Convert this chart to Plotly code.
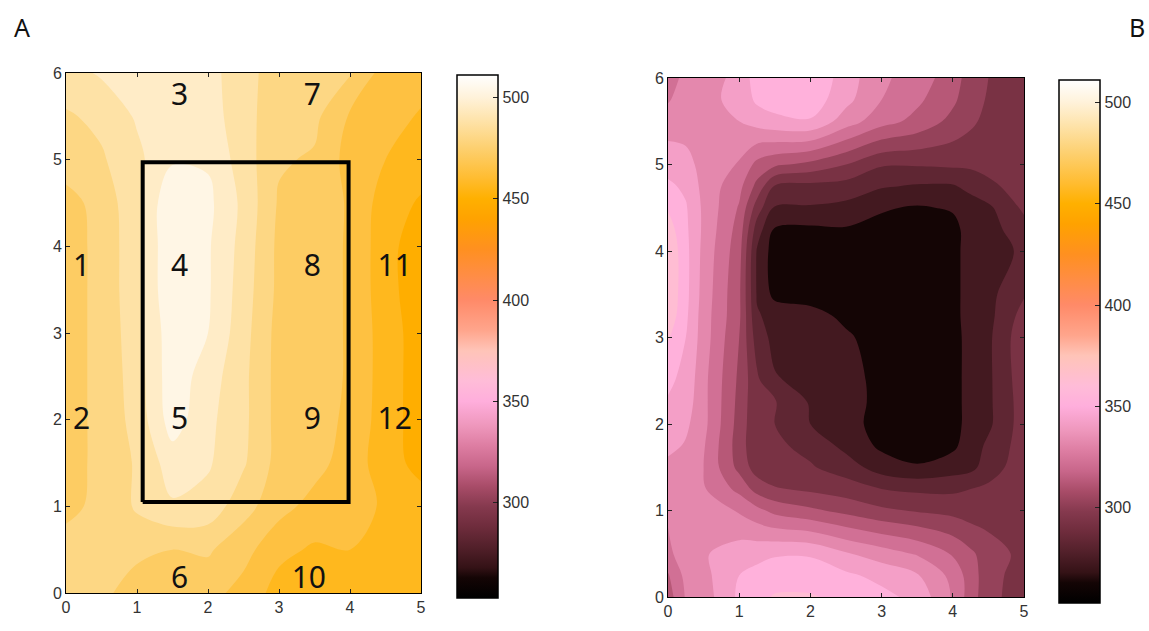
import plotly.graph_objects as go

W, H = 1149, 631
x_a = [0, .5, 1, 1.5, 2, 2.5, 3, 3.5, 4, 4.5, 5]
y_a = [0, .5, 1, 1.5, 2, 2.5, 3, 3.5, 4, 4.5, 5, 5.5, 6]
z_a = [
 [482,480,471,471,472,466,458,456,460,461,461],
 [480,482,480,477,478,472,463,460,461,461,461],
 [475,479,486,492,490,480,472,466,464,460,457],
 [474,479,486,497,494,486,474,472,465,457,450],
 [474,479,488,505,495,487,474,473,467,457,449],
 [474,479,489,506,497,487,474,473,468,457,449],
 [474,479,490,506,501,488,474,473,468,457,449],
 [474,479,491,508,502,489,475,473,468,456,448],
 [474,479,491,508,502,490,475,473,468,456,448],
 [474,480,491,508,503,491,476,474,468,457,452],
 [481,484,491,500,500,489,478,476,466,461,457],
 [484,487,494,497,497,488,480,479,468,465,460],
 [490,494,496,497,496,488,481,480,478,465,465],
]
x_b = [0, .25, .5, 1, 1.25, 1.5, 2, 2.5, 3, 3.5, 4, 4.25, 4.5, 5]
y_b = [0, .25, .5, 1, 1.25, 1.5, 1.75, 2, 2.25, 2.5, 3, 3.25, 3.5, 4, 4.25, 4.5, 4.75, 5, 5.5, 5.75, 6]
z_b = [
 [308,324,328,345,350,354,354,350,346,340,322,308,296,288],
 [312,326,330,343,346,348,348,345,340,334,320,308,297,288],
 [320,330,332,338,340,342,342,334,328,322,312,305,298,290],
 [325,326,328,322,316,310,305,300,295,292,290,288,288,290],
 [327,326,324,310,299,294,291,288,283,281,281,283,285,290],
 [330,328,323,300,288,285,284,278,268,264,268,270,278,289],
 [336,332,324,298,285,285,280,270,261,258,261,268,275,288],
 [340,335,326,299,285,283,273,268,258,256,259,267,271,288],
 [342,338,326,300,285,284,272,270,258,256,259,267,271,288],
 [345,340,326,301,285,274,270,268,259,256,259,267,271,289],
 [354,343,328,303,278,270,268,265,257,256,259,267,271,290],
 [360,345,328,305,274,270,268,260,257,256,260,267,270,287],
 [362,346,329,305,272,260,257,257,256,256,260,267,270,282],
 [362,346,330,307,272,258,257,257,256,256,260,267,268,275],
 [358,345,331,309,278,262,261,262,260,258,260,267,269,279],
 [352,344,331,312,288,272,272,270,264,262,264,268,271,285],
 [345,341,330,316,300,282,280,279,274,272,272,276,281,287],
 [339,336,330,322,310,305,300,293,284,284,285,285,286,287],
 [328,329,330,333,337,340,342,328,317,310,300,295,290,288],
 [322,328,330,336,345,348,349,336,323,315,305,297,292,288],
 [318,326,328,336,348,350,352,338,325,318,308,298,293,288],
]
z_min, z_max = 253, 511
tick_vals = [300, 350, 400, 450, 500]
cs_values = [253,263,268,278,288,298,308,318,328,338,350,360,375,385,400,425,440,450,460,475,490,500,511]
cs_colors = ["#000000","#140505","#341216","#52202a","#6e2c3c","#85394e","#a84c68","#c8668a","#dd7da2",
             "#ee97bc","#ffaedc","#ffbcd8","#ffc4b8","#ffa58c","#ff8a68","#ff9020","#ffa200","#ffb000",
             "#ffbc30","#fdd070","#fee5b0","#fff2da","#ffffff"]
colorscale = [[(v - z_min) / (z_max - z_min), c] for v, c in zip(cs_values, cs_colors)]

labels_a = ["1", "2", "3", "4", "5", "6", "7", "8", "9", "10", "11", "12"]
label_x = [0.22, 0.22, 1.6, 1.6, 1.6, 1.6, 3.47, 3.47, 3.47, 3.42, 4.63, 4.63]
label_y = [3.75, 1.98, 5.72, 3.75, 1.98, 0.14, 5.72, 3.75, 1.98, 0.14, 3.75, 1.98]
box_x = [1.08, 3.98]
box_y = [1.05, 4.97]

fig = go.Figure()
for xs, ys, z, xa, ya, sz in [(x_a, y_a, z_a, "x", "y", 8), (x_b, y_b, z_b, "x2", "y2", 10)]:
    fig.add_trace(go.Contour(x=xs, y=ys, z=z, xaxis=xa, yaxis=ya,
                             colorscale=colorscale, showscale=False, line_width=0, line_smoothing=1,
                             contours=dict(start=z_min, end=z_max, size=sz, coloring="fill")))

for xa, ya, left, top in [("x", "y", 457, 75), ("x2", "y2", 1059, 80)]:
    fig.add_trace(go.Scatter(x=[None], y=[None], xaxis=xa, yaxis=ya, mode="markers", showlegend=False,
        marker=dict(color=[z_min], cmin=z_min, cmax=z_max, colorscale=colorscale, showscale=True,
            colorbar=dict(x=left / W, xanchor="left", xpad=0, y=1 - top / H, yanchor="top", ypad=0,
                          len=523, lenmode="pixels", thickness=41, thicknessmode="pixels",
                          outlinecolor="black", outlinewidth=1.5, tickmode="array", tickvals=tick_vals,
                          ticks="inside", ticklen=5, tickcolor="#222", tickfont=dict(family="Liberation Sans", size=16, color="#333")))))

fig.add_trace(go.Scatter(x=[box_x[0], box_x[1], box_x[1], box_x[0], box_x[0]],
                         y=[box_y[0], box_y[0], box_y[1], box_y[1], box_y[0]],
                         mode="lines", line=dict(color="black", width=4), showlegend=False, xaxis="x", yaxis="y"))
fig.add_trace(go.Scatter(x=label_x, y=label_y, text=labels_a, mode="text", showlegend=False,
                         textfont=dict(family="Noto Sans", size=30, color="#111"), xaxis="x", yaxis="y"))

axis = dict(ticks="inside", ticklen=4, tickcolor="#222", linecolor="black", linewidth=1, mirror="ticks",
            showgrid=False, zeroline=False, dtick=1, tickfont=dict(family="Liberation Sans", size=16, color="#333"))
panel_font = dict(family="Noto Sans", size=25, color="#111")
fig.update_layout(
    width=W, height=H, margin=dict(l=0, r=0, t=0, b=0, autoexpand=False), paper_bgcolor="white", plot_bgcolor="white", showlegend=False,
    xaxis=dict(axis, domain=[66 / W, 421 / W], range=[0, 5], anchor="y"),
    yaxis=dict(axis, domain=[1 - 593 / H, 1 - 73 / H], range=[0, 6], anchor="x"),
    xaxis2=dict(axis, domain=[668 / W, 1024 / W], range=[0, 5], anchor="y2"),
    yaxis2=dict(axis, domain=[1 - 597 / H, 1 - 78 / H], range=[0, 6], anchor="x2"),
    annotations=[
        dict(text="A", x=22 / W, y=1 - 27 / H, xref="paper", yref="paper", xanchor="center", yanchor="middle", showarrow=False, font=panel_font),
        dict(text="B", x=1137 / W, y=1 - 27 / H, xref="paper", yref="paper", xanchor="center", yanchor="middle", showarrow=False, font=panel_font),
    ],
)
fig.write_html("out.html", config=dict(displayModeBar=False), post_script="document.body.style.margin='0';")
